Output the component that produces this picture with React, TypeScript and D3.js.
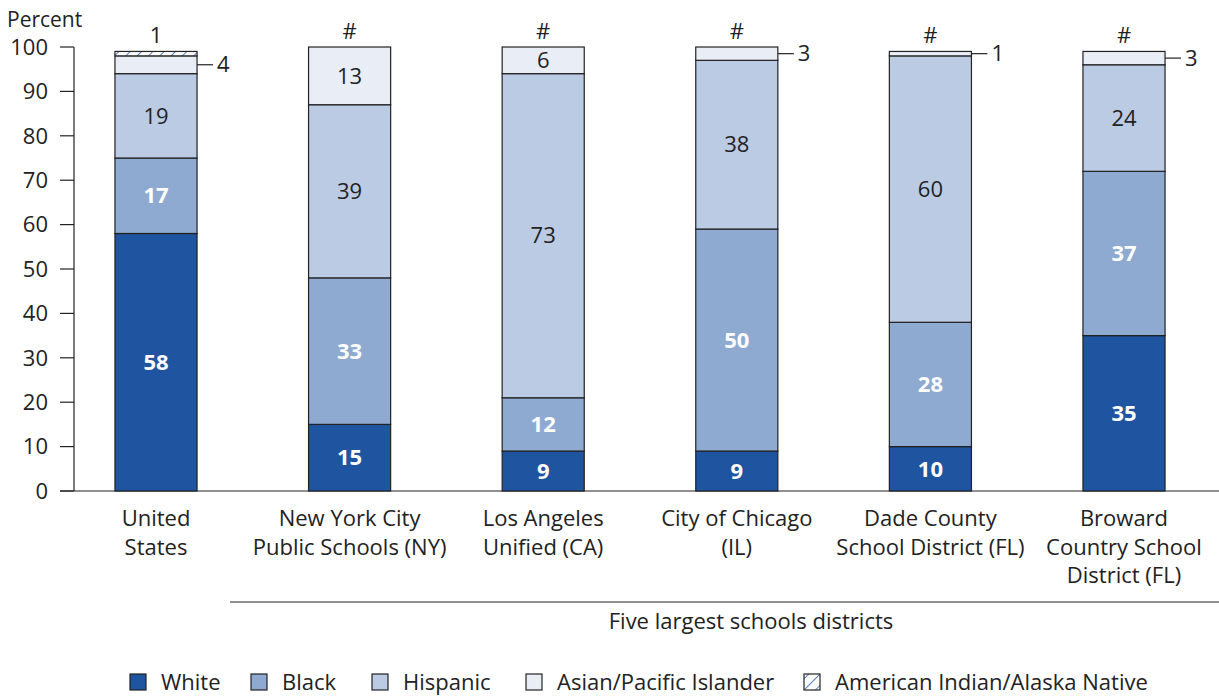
import { useEffect, useRef } from "react";
import * as d3 from "d3";

const categories = [
  ["United", "States"],
  ["New York City", "Public Schools (NY)"],
  ["Los Angeles", "Unified (CA)"],
  ["City of Chicago", "(IL)"],
  ["Dade County", "School District (FL)"],
  ["Broward", "Country School", "District (FL)"],
];
const groups = ["White", "Black", "Hispanic", "Asian/Pacific Islander", "American Indian/Alaska Native"];
const white = [58, 15, 9, 9, 10, 35];
const black = [17, 33, 12, 50, 28, 37];
const hispanic = [19, 39, 73, 38, 60, 24];
const asian = [4, 13, 6, 3, 1, 3];
const aian = [1, 0, 0, 0, 0, 0];
const yTicks = [0, 10, 20, 30, 40, 50, 60, 70, 80, 90, 100];
const colors = ["#1f54a0", "#8eaad0", "#bccbe4", "#e9eef6", "#ffffff"];

export default function App() {
  const svgRef = useRef<SVGSVGElement>(null);

  useEffect(() => {
    const width = 1219;
    const height = 698;
    const font = "'Open Sans', 'Liberation Sans', sans-serif";
    const fs = 22;
    const svg = d3.select(svgRef.current);
    svg.selectAll("*").remove();
    svg.attr("width", width).attr("height", height);

    const defs = svg.append("defs");
    const pat = defs
      .append("pattern")
      .attr("id", "hatch")
      .attr("patternUnits", "userSpaceOnUse")
      .attr("width", 8)
      .attr("height", 8)
      .attr("patternTransform", "rotate(45)");
    pat.append("rect").attr("width", 8).attr("height", 8).attr("fill", "#fff");
    pat.append("line").attr("x1", 0).attr("y1", 0).attr("x2", 0).attr("y2", 8)
      .attr("stroke", "#1f54a0").attr("stroke-width", 1.5);

    const y = d3.scaleLinear().domain([0, 100]).range([491, 47]);
    const x = d3
      .scaleBand<number>()
      .domain(d3.range(categories.length))
      .range([59.2, 1220.8])
      .paddingInner(0.576)
      .paddingOuter(0.288);

    const series = [white, black, hispanic, asian, aian];
    const stacked = categories.map((_, i) => {
      let acc = 0;
      return series.map((s, k) => {
        const y0 = acc;
        acc += s[i];
        return { i, k, y0, y1: acc, v: s[i] };
      });
    });

    // axis
    const g = svg.append("g");
    g.append("line").attr("x1", 74).attr("x2", 74).attr("y1", y(100)).attr("y2", y(0))
      .attr("stroke", "#222").attr("stroke-width", 1.2);
    g.append("line").attr("x1", 60).attr("x2", 1219).attr("y1", y(0)).attr("y2", y(0))
      .attr("stroke", "#222").attr("stroke-width", 1.2);
    g.selectAll(".tick").data(yTicks).join("line")
      .attr("x1", 60).attr("x2", 74).attr("y1", (d) => y(d)).attr("y2", (d) => y(d))
      .attr("stroke", "#222").attr("stroke-width", 1.2);
    g.selectAll(".tl").data(yTicks).join("text")
      .attr("x", 48).attr("y", (d) => y(d)).attr("dy", "0.35em")
      .attr("text-anchor", "end").attr("font-family", font).attr("font-size", fs)
      .attr("fill", "#222").text((d) => d);
    g.append("text").attr("x", 7).attr("y", 27).attr("font-family", font)
      .attr("font-size", 21).attr("fill", "#222").text("Percent");

    // bars
    const bw = x.bandwidth();
    stacked.forEach((segs) => {
      segs.forEach((s) => {
        if (s.v === 0) return;
        g.append("rect")
          .attr("x", x(s.i)!)
          .attr("y", y(s.y1))
          .attr("width", bw)
          .attr("height", y(s.y0) - y(s.y1))
          .attr("fill", s.k === 4 ? "url(#hatch)" : colors[s.k])
          .attr("stroke", "#222")
          .attr("stroke-width", 1.2);
      });
      segs.forEach((s) => {
        const cx = x(s.i)! + bw / 2;
        const right = x(s.i)! + bw;
        const top = segs[segs.length - 1].y1;
        if (s.k === 4) {
          g.append("text").attr("x", cx).attr("y", y(top) - 8)
            .attr("text-anchor", "middle").attr("font-family", font).attr("font-size", fs)
            .attr("fill", "#222").text(s.v === 0 ? "#" : s.v);
          return;
        }
        if (s.v < 5) {
          const my = y((s.y0 + s.y1) / 2);
          g.append("line").attr("x1", right).attr("x2", right + 16).attr("y1", my).attr("y2", my)
            .attr("stroke", "#222").attr("stroke-width", 1.2);
          g.append("text").attr("x", right + 20).attr("y", my).attr("dy", "0.35em")
            .attr("font-family", font).attr("font-size", fs).attr("fill", "#222").text(s.v);
          return;
        }
        const bold = s.k < 2;
        g.append("text").attr("x", cx).attr("y", y((s.y0 + s.y1) / 2)).attr("dy", "0.35em")
          .attr("text-anchor", "middle").attr("font-family", font).attr("font-size", fs)
          .attr("font-weight", bold ? "bold" : "normal")
          .attr("fill", bold ? "#fff" : "#222").text(s.v);
      });
    });

    // category labels
    categories.forEach((lines, i) => {
      const t = g.append("text").attr("x", x(i)! + bw / 2).attr("y", 526)
        .attr("text-anchor", "middle").attr("font-family", font).attr("font-size", fs).attr("fill", "#222");
      lines.forEach((l, j) => {
        t.append("tspan").attr("x", x(i)! + bw / 2).attr("dy", j === 0 ? 0 : 28.7).text(l);
      });
    });

    g.append("line").attr("x1", 230).attr("x2", 1219).attr("y1", 602).attr("y2", 602)
      .attr("stroke", "#222").attr("stroke-width", 1.2);
    g.append("text").attr("x", 751).attr("y", 629).attr("text-anchor", "middle")
      .attr("font-family", font).attr("font-size", fs).attr("fill", "#222")
      .text("Five largest schools districts");

    // legend
    const legX = [130, 251, 372, 526, 804];
    groups.forEach((name, k) => {
      g.append("rect").attr("x", legX[k]).attr("y", 674).attr("width", 16).attr("height", 16)
        .attr("fill", k === 4 ? "url(#hatch)" : colors[k]).attr("stroke", "#222").attr("stroke-width", 1.2);
      g.append("text").attr("x", legX[k] + 31).attr("y", 682).attr("dy", "0.35em")
        .attr("font-family", font).attr("font-size", fs).attr("fill", "#222").text(name);
    });
  }, []);

  return <svg ref={svgRef} style={{ position: "absolute", left: 0, top: 0 }} />;
}
